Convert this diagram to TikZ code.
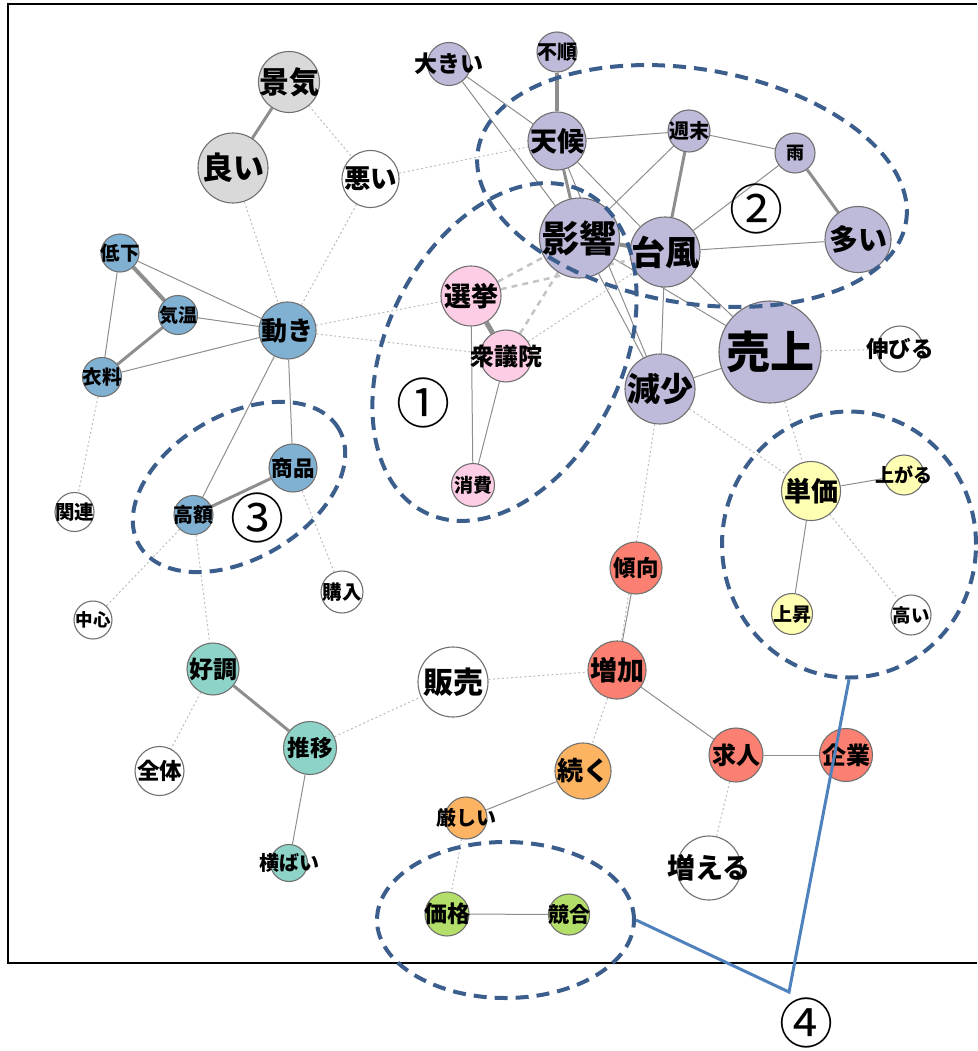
\documentclass[tikz,border=0pt]{standalone}
\usepackage{fontspec}
\setmainfont{Noto Sans CJK JP}
\usetikzlibrary{positioning,shapes.geometric}
\pgfdeclarelayer{edges}
\pgfsetlayers{edges,main}
\definecolor{ndline}{HTML}{707070}
\definecolor{cedge}{HTML}{8E8E8E}
\definecolor{cweak}{HTML}{BDBDBD}
\definecolor{cmid}{HTML}{C4C4C4}
\definecolor{cgrp}{HTML}{3B5E8C}
\definecolor{cmark}{HTML}{4F81BD}
\definecolor{cgry}{HTML}{D9D9D9}
\definecolor{cblu}{HTML}{80B1D3}
\definecolor{cpnk}{HTML}{FCCDE5}
\definecolor{cprp}{HTML}{BEBADA}
\definecolor{cylw}{HTML}{FFFFB3}
\definecolor{cslm}{HTML}{FB8072}
\definecolor{corg}{HTML}{FDB462}
\definecolor{ctel}{HTML}{8DD3C7}
\definecolor{cgrn}{HTML}{B3DE69}
\newcommand{\nlbl}[1]{\makebox[0pt]{#1}}

\begin{document}
\begin{tikzpicture}[x=1pt,y=1pt,
word/.style={circle,draw=ndline,line width=1.1pt,inner sep=0pt,minimum size=#1},
gry/.style={word=#1,fill=cgry},
wht/.style={word=#1,fill=white},
blu/.style={word=#1,fill=cblu},
pnk/.style={word=#1,fill=cpnk},
prp/.style={word=#1,fill=cprp},
ylw/.style={word=#1,fill=cylw},
slm/.style={word=#1,fill=cslm},
org/.style={word=#1,fill=corg},
tel/.style={word=#1,fill=ctel},
grn/.style={word=#1,fill=cgrn},
fs/.style={font=\fontsize{#1}{#1}\selectfont\bfseries},
num/.style={font=\fontsize{54}{54}\selectfont,inner sep=0pt},
paths/.style={draw=cedge,line width=1pt},
strong/.style={draw=cedge,line width=3pt},
weak/.style={draw=cweak,line width=1pt,dash pattern=on 2pt off 2.5pt},
mid/.style={draw=cmid,line width=2.5pt,dash pattern=on 6pt off 5pt},
group/.style={ellipse,draw=cgrp,line width=4pt,dash pattern=on 13pt off 8pt,inner sep=0pt},
marker/.style={draw=cmark,line width=3pt}
]
\useasboundingbox (0,0) rectangle (977,-1051);

%frame
\draw[line width=2.5pt] (977,-4) -- (8,-4) -- (8,-963) -- (977,-963);

%create nodes
\node[gry=61, fs=30] (keiki) at (289,-82) {\nlbl{景気}};
\node[gry=70, fs=31] (yoi) at (233,-168) {\nlbl{良い}};

\node[wht=57, fs=26.5] (warui) at (370.5,-179) {\nlbl{悪い}};
\node[wht=46, fs=22.5] (nobiru) at (900,-349) {\nlbl{伸びる}};
\node[wht=39, fs=19.5] (kanren) at (74.5,-512) {\nlbl{関連}};
\node[wht=38, fs=17.5] (chushin) at (93,-620) {\nlbl{中心}};
\node[wht=42, fs=19.5] (konyu) at (342,-592) {\nlbl{購入}};
\node[wht=49, fs=22.5] (zentai) at (159.5,-771) {\nlbl{全体}};
\node[wht=70, fs=30] (hanbai) at (453,-682) {\nlbl{販売}};
\node[wht=64, fs=28] (fueru) at (709,-868) {\nlbl{増える}};
\node[wht=40, fs=18.5] (takai) at (911,-615) {\nlbl{高い}};

\node[blu=38, fs=19.5] (teika) at (120,-253) {\nlbl{低下}};
\node[blu=39, fs=19] (kion) at (178,-315) {\nlbl{気温}};
\node[blu=39, fs=19.5] (iryo) at (102,-377) {\nlbl{衣料}};
\node[blu=57, fs=26] (ugoki) at (287.5,-330.5) {\nlbl{動き}};
\node[blu=48, fs=21.5] (shohin) at (293,-468) {\nlbl{商品}};
\node[blu=39, fs=20] (kogaku) at (193.5,-515) {\nlbl{高額}};

\node[pnk=60, fs=27] (senkyo) at (471,-296) {\nlbl{選挙}};
\node[pnk=52, fs=24] (shugiin) at (506,-356) {\nlbl{衆議院}};
\node[pnk=43, fs=19] (shohi) at (473,-485) {\nlbl{消費}};

\node[prp=43, fs=23] (ookii) at (449,-64) {\nlbl{大きい}};
\node[prp=40, fs=20] (fujun) at (557,-52) {\nlbl{不順}};
\node[prp=58, fs=27] (tenko) at (557,-141) {\nlbl{天候}};
\node[prp=42, fs=20] (shumatsu) at (689,-131) {\nlbl{週末}};
\node[prp=40, fs=18] (ame) at (795,-153) {\nlbl{雨}};
\node[prp=80, fs=37] (eikyo) at (579.5,-238) {\nlbl{影響}};
\node[prp=70, fs=34] (taifu) at (665,-252) {\nlbl{台風}};
\node[prp=66, fs=29] (ooi) at (858,-239.5) {\nlbl{多い}};
\node[prp=102, fs=44] (uriage) at (770,-352) {\nlbl{売上}};
\node[prp=70, fs=33] (gensho) at (660,-389) {\nlbl{減少}};

\node[ylw=59, fs=27] (tanka) at (811,-491) {\nlbl{単価}};
\node[ylw=40, fs=19] (agaru) at (904,-475) {\nlbl{上がる}};
\node[ylw=41, fs=19] (josho) at (792,-614) {\nlbl{上昇}};

\node[slm=52, fs=22.5] (keiko) at (636,-568) {\nlbl{傾向}};
\node[slm=58, fs=27] (zoka) at (617,-670) {\nlbl{増加}};
\node[slm=54, fs=24] (kyujin) at (736,-755) {\nlbl{求人}};
\node[slm=53, fs=24] (kigyo) at (846,-755) {\nlbl{企業}};

\node[org=56, fs=26] (tsuzuku) at (583,-771) {\nlbl{続く}};
\node[org=42, fs=20] (kibishii) at (466,-818) {\nlbl{厳しい}};

\node[tel=52, fs=24] (kocho) at (213,-669) {\nlbl{好調}};
\node[tel=53, fs=22.5] (suii) at (310,-748) {\nlbl{推移}};
\node[tel=37, fs=20] (yokobai) at (289,-863) {\nlbl{横ばい}};

\node[grn=44, fs=23] (kakaku) at (447,-914) {\nlbl{価格}};
\node[grn=41, fs=21] (kyogo) at (569,-914.5) {\nlbl{競合}};

\begin{pgfonlayer}{edges}
%strong co-occurrence
\draw[strong] (keiki) -- (yoi);
\draw[strong, line width=4pt] (teika) -- (kion);
\draw[strong] (kion) -- (iryo);
\draw[strong] (shohin) -- (kogaku);
\draw[strong] (kocho) -- (suii);
\draw[strong, line width=5pt] (senkyo) -- (shugiin);
\draw[strong, line width=4pt] (fujun) -- (tenko);
\draw[strong] (tenko) -- (eikyo);
\draw[strong] (shumatsu) -- (taifu);
\draw[strong] (ame) -- (ooi);
\draw[strong, line width=4pt] (eikyo) -- (taifu);

%normal paths
\draw[paths] (teika) -- (iryo);
\draw[paths] (teika) -- (ugoki);
\draw[paths] (kion) -- (ugoki);
\draw[paths] (iryo) -- (ugoki);
\draw[paths] (ugoki) -- (shohin);
\draw[paths] (ugoki) -- (kogaku);
\draw[paths] (suii) -- (yokobai);
\draw[paths] (senkyo) -- (shohi);
\draw[paths] (shugiin) -- (shohi);
\draw[paths] (ookii) -- (tenko);
\draw[paths] (ookii) -- (eikyo);
\draw[paths] (tenko) -- (shumatsu);
\draw[paths] (tenko) -- (taifu);
\draw[paths] (tenko) -- (gensho);
\draw[paths] (shumatsu) -- (eikyo);
\draw[paths] (shumatsu) -- (ame);
\draw[paths] (ame) -- (taifu);
\draw[paths] (taifu) -- (ooi);
\draw[paths] (eikyo) -- (gensho);
\draw[paths] (taifu) -- (gensho);
\draw[paths] (eikyo) -- (uriage);
\draw[paths] (taifu) -- (uriage);
\draw[paths] (gensho) -- (uriage);
\draw[paths] (keiko) -- (zoka);
\draw[paths] (zoka) -- (kyujin);
\draw[paths] (kyujin) -- (kigyo);
\draw[paths] (tsuzuku) -- (kibishii);
\draw[paths] (kakaku) -- (kyogo);
\draw[paths] (tanka) -- (agaru);
\draw[paths] (tanka) -- (josho);

%dashed links to the election
\draw[mid] (senkyo) -- (eikyo);
\draw[mid] (senkyo) -- (taifu);
\draw[mid] (shugiin) -- (eikyo);

%weak links
\draw[weak] (keiki) -- (warui);
\draw[weak] (yoi) -- (ugoki);
\draw[weak] (warui) -- (ugoki);
\draw[weak] (warui) -- (tenko);
\draw[weak] (ugoki) -- (senkyo);
\draw[weak] (ugoki) -- (shugiin);
\draw[weak] (shugiin) -- (taifu);
\draw[weak] (iryo) -- (kanren);
\draw[weak] (kogaku) -- (chushin);
\draw[weak] (kogaku) -- (kocho);
\draw[weak] (shohin) -- (konyu);
\draw[weak] (kocho) -- (zentai);
\draw[weak] (suii) -- (hanbai);
\draw[weak] (hanbai) -- (zoka);
\draw[weak] (gensho) -- (zoka);
\draw[weak] (zoka) -- (tsuzuku);
\draw[weak] (kyujin) -- (fueru);
\draw[weak] (kibishii) -- (kakaku);
\draw[weak] (tanka) -- (takai);
\draw[weak] (gensho) -- (tanka);
\draw[weak] (uriage) -- (tanka);
\draw[weak] (uriage) -- (nobiru);
\end{pgfonlayer}

%groups
\node[group, minimum width=358, minimum height=236, rotate=63.8] (grp1) at (504.5,-352) {};
\node[group, minimum width=434, minimum height=234, rotate=-9.6] (grp2) at (692,-186) {};
\node[group, minimum width=231, minimum height=144, rotate=30.2] (grp3) at (239,-487) {};
\node[group, minimum width=254, minimum height=266] (grp4a) at (849,-544.5) {};
\node[group, minimum width=257, minimum height=156] (grp4b) at (505.5,-920) {};

\node[num] (n1) at (423,-403) {①};
\node[num] (n2) at (756,-209) {②};
\node[num] (n3) at (257,-518) {③};
\node[num] (n4) at (806,-1023) {④};

%marker lines for group 4
\coordinate (j4) at (789,-992);
\draw[marker] (grp4a.south) -- (j4) -- (grp4b.east);

\end{tikzpicture}
\end{document}
